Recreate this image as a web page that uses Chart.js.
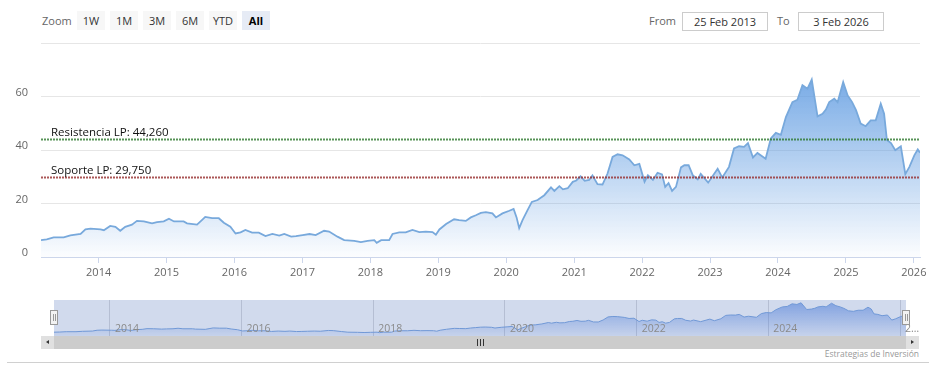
<!DOCTYPE html>
<html><head><meta charset="utf-8">
<script src="https://cdn.jsdelivr.net/npm/chart.js@4.4.1/dist/chart.umd.min.js"></script>
<style>
body{margin:0;background:#fff;font-family:"Open Sans",sans-serif;}
#wrap{position:relative;width:936px;height:382px;overflow:hidden;background:#fff}
.a{position:absolute}
.btn{position:absolute;top:11px;width:28px;height:19px;line-height:19px;background:#f7f7f7;color:#333;font-size:11px;text-align:center;}
.btn.sel{background:#e6ebf5;color:#000;font-weight:bold}
.lbl{position:absolute;top:11px;height:19px;line-height:19px;font-size:11px;color:#666}
.box{position:absolute;top:12px;height:19px;line-height:17px;box-sizing:border-box;border:1px solid #ccc;font-size:11px;color:#333;text-align:center}
</style></head>
<body>
<div id="wrap">
  <div class="lbl" style="left:42px">Zoom</div>
  <div id="btns"></div>
  <div class="lbl" style="left:649px">From</div>
  <div class="box" id="fromBox" style="left:682px;width:86px"></div>
  <div class="lbl" style="left:777px">To</div>
  <div class="box" id="toBox" style="left:798px;width:86px"></div>

  <canvas id="main" class="a" style="left:0;top:0" width="936" height="290"></canvas>
  <canvas id="nav" class="a" style="left:41px;top:300px" width="878" height="36"></canvas>

  <div class="a" style="left:41px;top:336px;width:878px;height:13px;background:#f2f2f2"></div>
  <div class="a" style="left:54px;top:336px;width:852px;height:13px;background:#cccccc"></div>
  <div class="a" style="left:477px;top:339px;width:1px;height:7px;background:#333"></div>
  <div class="a" style="left:480px;top:339px;width:1px;height:7px;background:#333"></div>
  <div class="a" style="left:483px;top:339px;width:1px;height:7px;background:#333"></div>
  <div class="a" style="left:41px;top:336px;width:13px;height:13px;background:#e0e0e0"></div>
  <div class="a" style="left:46px;top:340px;width:0;height:0;border-top:2.5px solid transparent;border-bottom:2.5px solid transparent;border-right:3px solid #333"></div>
  <div class="a" style="left:906px;top:336px;width:13px;height:13px;background:#e0e0e0"></div>
  <div class="a" style="left:911px;top:340px;width:0;height:0;border-top:2.5px solid transparent;border-bottom:2.5px solid transparent;border-left:3px solid #333"></div>

  <div class="a" id="credits" style="right:17px;top:348px;font-size:8.5px;line-height:12px;color:#999"></div>
  <div class="a" style="left:7px;top:362px;width:922px;height:1px;background:#d0d0d0"></div>
</div>
<script>
// ---------- data ----------
const dates = [
"2013-02-25","2013-03-28","2013-05-04","2013-06-27","2013-08-02","2013-09-26","2013-10-22","2013-11-18",
"2014-01-11","2014-01-29","2014-03-04","2014-04-01","2014-04-27","2014-05-24","2014-06-29","2014-07-26","2014-09-01","2014-10-15","2014-11-11","2014-12-17",
"2015-01-14","2015-02-10","2015-04-03","2015-04-21","2015-06-14","2015-07-10","2015-07-28","2015-09-03","2015-10-09","2015-11-05","2015-12-10",
"2016-01-07","2016-02-03","2016-02-29","2016-04-05","2016-05-11","2016-06-16","2016-07-23","2016-08-29","2016-09-25","2016-11-01","2016-11-27",
"2017-01-02","2017-02-08","2017-03-13","2017-04-27","2017-05-24","2017-07-08","2017-08-13","2017-10-06","2017-11-11","2017-12-17",
"2018-01-22","2018-02-04","2018-02-28","2018-04-12","2018-04-30","2018-06-05","2018-07-10","2018-08-15","2018-09-21","2018-10-26","2018-12-01","2018-12-19",
"2019-01-07","2019-02-12","2019-03-27","2019-04-23","2019-05-29","2019-06-25","2019-07-22","2019-08-18","2019-09-14","2019-10-19","2019-11-07","2019-12-12",
"2020-01-18","2020-02-10","2020-02-26","2020-03-11","2020-03-29","2020-04-25","2020-05-18","2020-06-18","2020-07-24","2020-08-29","2020-09-16","2020-10-13","2020-11-01","2020-11-27","2020-12-24",
"2021-01-12","2021-02-04","2021-02-26","2021-03-22","2021-04-09","2021-05-06","2021-06-02","2021-06-29","2021-07-26","2021-08-22","2021-09-18","2021-10-24","2021-11-20","2021-12-17",
"2022-01-14","2022-02-01","2022-02-28","2022-03-25","2022-04-18","2022-05-05","2022-05-23","2022-06-11","2022-07-02","2022-07-29","2022-08-16","2022-09-08","2022-09-30","2022-10-27","2022-11-12","2022-12-22",
"2023-02-11","2023-03-08","2023-04-13","2023-05-10","2023-06-06","2023-07-03","2023-07-24","2023-08-20","2023-09-13","2023-10-27","2023-11-24","2023-12-21",
"2024-01-17","2024-02-13","2024-03-19","2024-04-15","2024-05-12","2024-06-08","2024-07-01","2024-08-01","2024-08-28","2024-09-15","2024-10-03","2024-10-30","2024-11-17","2024-12-17",
"2025-01-10","2025-02-03","2025-02-24","2025-03-21","2025-04-17","2025-05-14","2025-06-10","2025-07-07","2025-07-25","2025-08-09","2025-08-31","2025-09-23","2025-10-23","2025-11-16","2025-12-08",
"2026-01-04","2026-01-22","2026-02-03"
];
const prices = [
6.3,6.6,7.3,7.3,8.1,8.6,10.3,10.6,
10.3,10.0,11.6,11.3,9.8,11.3,12.1,13.5,13.3,12.6,13.0,13.3,
14.3,13.3,13.3,12.6,12.1,13.8,15.0,14.5,14.5,12.8,11.3,
8.8,9.2,10.1,9.1,9.1,7.8,8.6,8.0,8.6,7.6,7.8,
8.2,8.6,8.2,9.8,9.5,7.6,6.3,6.0,5.6,6.0,
6.3,5.3,6.3,6.3,8.6,9.2,9.2,10.1,9.3,9.5,9.3,8.3,
10.3,12.3,14.1,13.8,13.5,14.8,15.6,16.5,16.8,16.3,14.8,16.3,
17.3,18.0,14.8,10.8,13.8,17.5,20.6,21.3,23.1,26.0,24.7,26.5,25.3,25.7,28.1,
28.6,30.2,28.5,28.8,30.5,27.2,27.1,31.2,37.4,38.4,38.0,36.5,34.3,34.8,
28.1,30.6,28.8,31.5,30.9,26.2,27.6,24.7,26.2,33.5,34.3,34.3,30.6,29.0,31.1,27.8,
33.0,29.7,33.7,40.6,41.4,41.2,42.6,37.2,38.9,36.7,44.3,46.4,
45.7,52.3,57.9,58.8,64.2,62.9,66.3,52.6,53.5,55.1,57.9,59.2,57.9,65.4,
60.4,57.9,54.9,49.9,48.9,51.1,51.1,57.3,53.6,43.7,42.6,39.9,41.4,31.0,33.7,
38.1,40.2,39.0
];
const yearTicks = [2014,2015,2016,2017,2018,2019,2020,2021,2022,2023,2024,2025,2026];
const navYearTicks = [2014,2016,2018,2020,2022,2024,2026];
const yTicks = [0,20,40,60,80];
const levelLabels = ["Resistencia LP: 44,260","Soporte LP: 29,750"];
const levelValues = [44.26, 29.75];
const rangeButtons = ["1W","1M","3M","6M","YTD","All"];
const selectedButton = "All";
const fromText = "25 Feb 2013";
const toText = "3 Feb 2026";
const creditText = "Estrategias de Inversión";

// ---------- styles ----------
const FONT = '"Open Sans", sans-serif';
const LEVEL_COLORS = ['rgba(45,120,45,0.8)','rgba(150,45,45,0.8)'];

// ---------- toolbar ----------
const btnWrap = document.getElementById('btns');
rangeButtons.forEach((b,i)=>{
  const d = document.createElement('div');
  d.className = 'btn' + (b===selectedButton?' sel':'');
  d.style.left = (77 + i*33) + 'px';
  d.textContent = b;
  btnWrap.appendChild(d);
});
document.getElementById('fromBox').textContent = fromText;
document.getElementById('toBox').textContent = toText;
document.getElementById('credits').textContent = creditText;

// ---------- chart ----------
const ts = s => { const p = s.split('-').map(Number); return Date.UTC(p[0], p[1]-1, p[2]); };
const points = dates.map((d,i)=>({x: ts(d), y: prices[i]}));
const xMin = ts(dates[0]), xMax = ts(dates[dates.length-1]);

const levelPlugin = {
  id: 'levels',
  afterDatasetsDraw(chart){
    const {ctx, chartArea:a} = chart; const y = chart.scales.y;
    levelValues.forEach((v,i)=>{
      const py = Math.round(y.getPixelForValue(v));
      ctx.save();
      ctx.fillStyle = LEVEL_COLORS[i];
      for (let x = Math.round(a.left); x < a.right; x += 3) ctx.fillRect(x, py - 0.5, 2, 2);
      ctx.fillStyle = '#111'; ctx.font = '11.5px ' + FONT; ctx.textBaseline = 'alphabetic'; ctx.textAlign = 'left';
      ctx.fillText(levelLabels[i], a.left + 10, py - 3);
      ctx.restore();
    });
  }
};

new Chart(document.getElementById('main'), {
  type: 'line',
  data: { datasets: [{
    data: points,
    borderColor: '#78a9dc', borderWidth: 1.8, pointRadius: 0, tension: 0,
    fill: 'origin',
    backgroundColor: (c) => {
      const a = c.chart.chartArea; if (!a) return 'rgba(95,155,225,0.4)';
      const g = c.chart.ctx.createLinearGradient(0, a.top, 0, a.bottom);
      g.addColorStop(0, 'rgba(95,155,225,1)'); g.addColorStop(1, 'rgba(95,155,225,0.02)');
      return g;
    }
  }]},
  options: {
    responsive: false, animation: false, devicePixelRatio: 1, events: [],
    layout: { padding: { left: 0, top: 43, right: 16, bottom: 8 } },
    plugins: { legend: { display: false }, tooltip: { enabled: false } },
    scales: {
      x: {
        type: 'linear', min: xMin, max: xMax,
        afterBuildTicks: ax => { ax.ticks = yearTicks.map(y => ({ value: Date.UTC(y,0,1) })); },
        afterFit: ax => { ax.height = 25; },
        ticks: { autoSkip: false, maxRotation: 0, padding: 3, color: '#666', font: { family: FONT, size: 11 },
          callback: v => String(new Date(v).getUTCFullYear()) },
        grid: { drawOnChartArea: false, color: '#ccd6eb', tickColor: '#ccd6eb', tickLength: 6 },
        border: { display: true, color: '#ccd6eb' }
      },
      y: {
        min: 0, max: 80,
        afterBuildTicks: ax => { ax.ticks = yTicks.map(v => ({ value: v })); },
        afterFit: ax => { ax.width = 41; },
        ticks: { padding: 13, labelOffset: -4, color: '#666', font: { family: FONT, size: 11 },
          callback: v => v === 80 ? '' : String(v) },
        grid: { color: '#e6e6e6', drawTicks: false },
        border: { display: false }
      }
    }
  },
  plugins: [levelPlugin]
});

// ---------- navigator ----------
const navPlugin = {
  id: 'nav',
  beforeDraw(chart){
    const {ctx, chartArea:a} = chart;
    ctx.save(); ctx.fillStyle = 'rgba(102,133,194,0.3)';
    ctx.fillRect(a.left, a.top, a.right - a.left, a.bottom - a.top); ctx.restore();
  },
  afterDatasetsDraw(chart){
    const {ctx} = chart; const x = chart.scales.x;
    ctx.save(); ctx.font = '10.5px ' + FONT; ctx.fillStyle = '#8a8a8a'; ctx.textBaseline = 'middle'; ctx.textAlign = 'left';
    navYearTicks.forEach(y => {
      const px = x.getPixelForValue(Date.UTC(y,0,1)) + 5;
      let t = String(y);
      const avail = chart.width - px;
      if (ctx.measureText(t).width > avail) {
        while (t.length > 1 && ctx.measureText(t + '…').width > avail) t = t.slice(0, -1);
        t = t + '…';
      }
      ctx.fillText(t, px, 29);
    });
    ctx.restore();
  },
  afterDraw(chart){
    const {ctx, chartArea:a} = chart;
    ctx.save();
    [a.left, a.right].forEach(hx => {
      const cx = Math.round(hx);
      ctx.fillStyle = '#f2f2f2'; ctx.strokeStyle = '#999'; ctx.lineWidth = 1;
      ctx.fillRect(cx - 3.5, 10.5, 7, 14); ctx.strokeRect(cx - 3.5, 10.5, 7, 14);
      ctx.beginPath(); ctx.moveTo(cx - 1 + 0.5, 14); ctx.lineTo(cx - 1 + 0.5, 21);
      ctx.moveTo(cx + 1 + 0.5, 14); ctx.lineTo(cx + 1 + 0.5, 21); ctx.stroke();
    });
    ctx.restore();
  }
};

new Chart(document.getElementById('nav'), {
  type: 'line',
  data: { datasets: [{
    data: points,
    borderColor: '#7098d6', borderWidth: 1, pointRadius: 0, tension: 0, fill: 'start',
    backgroundColor: (c) => {
      const a = c.chart.chartArea; if (!a) return 'rgba(70,120,215,0.3)';
      const g = c.chart.ctx.createLinearGradient(0, a.top, 0, a.bottom);
      g.addColorStop(0, 'rgba(70,120,215,0.6)'); g.addColorStop(1, 'rgba(70,120,215,0.08)');
      return g;
    }
  }]},
  options: {
    responsive: false, animation: false, devicePixelRatio: 1, events: [],
    layout: { padding: { left: 13, right: 13, top: 0, bottom: 0 } },
    plugins: { legend: { display: false }, tooltip: { enabled: false } },
    scales: {
      x: {
        type: 'linear', min: xMin, max: xMax, display: true,
        afterBuildTicks: ax => { ax.ticks = navYearTicks.map(y => ({ value: Date.UTC(y,0,1) })); },
        afterFit: ax => { ax.height = 0; },
        ticks: { display: false },
        grid: { color: 'rgba(80,90,120,0.22)', drawTicks: false },
        border: { display: false }
      },
      y: { display: false, min: -1.5, max: 72 }
    }
  },
  plugins: [navPlugin]
});
</script>
</body></html>
